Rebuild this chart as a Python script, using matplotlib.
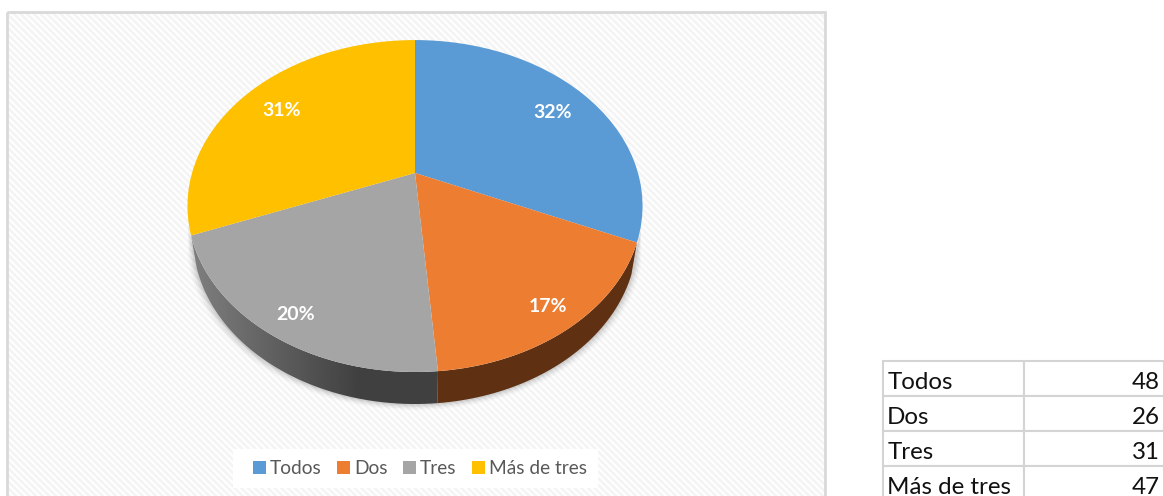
import numpy as np
import matplotlib
matplotlib.use('Agg')
import matplotlib.pyplot as plt
from matplotlib.patches import Polygon, Rectangle
from matplotlib.transforms import Transform, Affine2D

categories = ['Todos', 'Dos', 'Tres', 'Más de tres']
values = [48, 26, 31, 47]
colors = ['#5B9BD5', '#ED7D31', '#A5A5A5', '#FFC000']

plt.rcParams['font.family'] = ['Lato', 'DejaVu Sans']
plt.rcParams['hatch.linewidth'] = 1.8

# el centro del pie esta desplazado por la perspectiva
APEX_X, APEX_Y = 415, 173
PERSP_C = 0.199
PERSP_K = 159.4
PERSP_M = 223.0
DEPTH = 32


class Persp(Transform):
    """Pasa el circulo unidad a la elipse en perspectiva (pixeles)"""
    input_dims = 2
    output_dims = 2

    def transform_non_affine(self, xy):
        xy = np.asarray(xy, dtype=float)
        w = 1 + PERSP_C * xy[:, 1]
        return np.column_stack((APEX_X + PERSP_M * xy[:, 0] / w,
                                APEX_Y - PERSP_K * xy[:, 1] / w))


persp = Persp()

fig = plt.figure(figsize=(11.64, 4.96), dpi=100, facecolor='white')
ax = fig.add_axes([0, 0, 1, 1])

# fondo del grafico con rayas diagonales
ax.add_patch(Rectangle((8, 13), 817, 490, facecolor='white', edgecolor='#F4F4F4',
                       hatch='\\' * 5, linewidth=0, zorder=1))
ax.add_patch(Rectangle((7, 12), 818, 494, facecolor='none', edgecolor='#D9D9D9',
                       linewidth=2, zorder=2))

# angulos acumulados, en sentido horario desde arriba
fractions = np.array(values) / sum(values)
cum = np.concatenate(([0], np.cumsum(fractions))) * 2 * np.pi


def rim(a, b, n=80):
    t = np.linspace(a, b, n)
    return persp.transform(np.column_stack((np.sin(t), np.cos(t))))


def wall(a, b, shrink=0.975):
    top = rim(a, b)
    low = top.copy()
    low[:, 0] = APEX_X + (low[:, 0] - APEX_X) * shrink
    low[:, 1] = low[:, 1] + DEPTH
    return np.vstack((top, low[::-1]))


# sombra suave bajo el pie
for grow, alpha in [(6, 0.025), (4.5, 0.035), (3, 0.05), (1.5, 0.07)]:
    shadow = wall(cum[1] - 0.1, cum[3] + 0.1, shrink=0.975 + grow / 227) + [0, grow]
    ax.add_patch(Polygon(shadow, closed=True, facecolor='black', edgecolor='none',
                         alpha=alpha, zorder=3))

# pared lateral
dos_wall = Polygon(wall(cum[1], cum[2]), closed=True, facecolor='#5F3112',
                   edgecolor='none', zorder=4)
ax.add_patch(dos_wall)
tres_wall = Polygon(wall(cum[2], cum[3]), closed=True, facecolor='none',
                    edgecolor='none', zorder=4)
ax.add_patch(tres_wall)
gradient = np.clip((np.linspace(188, 438, 256) - 190) / 170, 0, 1)
gradient = 0.50 + (0.25 - 0.50) * gradient
im = ax.imshow(gradient[np.newaxis, :], extent=(188, 438, 410, 230), cmap='gray',
               vmin=0, vmax=1, aspect='auto', zorder=4)
im.set_clip_path(tres_wall)

# cara superior
wedges, _ = ax.pie(values, colors=colors, startangle=90, counterclock=False,
                   radius=1, wedgeprops={'linewidth': 0})
for w in wedges:
    w.set_transform(persp + ax.transData)
    w.set_zorder(5)

ax.set_aspect('auto')
ax.set_xlim(0, 1164)
ax.set_ylim(496, 0)
ax.axis('off')

# etiquetas de porcentaje
label_pos = [(553, 112), (548, 307), (296, 314), (282, 110)]
for v, (lx, ly) in zip(values, label_pos):
    ax.text(lx, ly, '%d%%' % round(100 * v / sum(values)), color='white', fontsize=14,
            fontweight='bold', ha='center', va='center', zorder=6)

# leyenda sobre un recuadro blanco
ax.add_patch(Rectangle((233, 449), 365, 39, facecolor='white', edgecolor='none', zorder=5))
handles = [Rectangle((0, 0), 1, 1, facecolor=c) for c in colors]
leg = ax.legend(handles, categories, ncol=4, loc='center',
                bbox_to_anchor=(420 / 1164, 1 - 468.5 / 496), frameon=False,
                fontsize=13.8, handlelength=0.68, handleheight=0.68, handletextpad=0.2,
                columnspacing=0.82, labelcolor='#595959', borderpad=0)
leg.set_zorder(6)

# tabla de datos
cells = [[c, v] for c, v in zip(categories, values)]
tab = ax.table(cellText=cells, bbox=[883 / 1164, 1 - 501 / 496, 281 / 1164, 140 / 496],
               colWidths=[141 / 281, 140 / 281], zorder=7)
tab.auto_set_font_size(False)
for (r, c), cell in tab.get_celld().items():
    cell.set_edgecolor('#D4D4D4')
    cell.set_linewidth(1.5)
    cell.set_facecolor('white')
    txt = cell.get_text()
    txt.set_fontsize(17.4)
    txt.set_color('#111111')
    txt.set_ha('left' if c == 0 else 'right')
    txt.set_transform(Affine2D().translate(0, -4))
    cell.PAD = 0.03

fig.savefig('out.png', dpi=100)
